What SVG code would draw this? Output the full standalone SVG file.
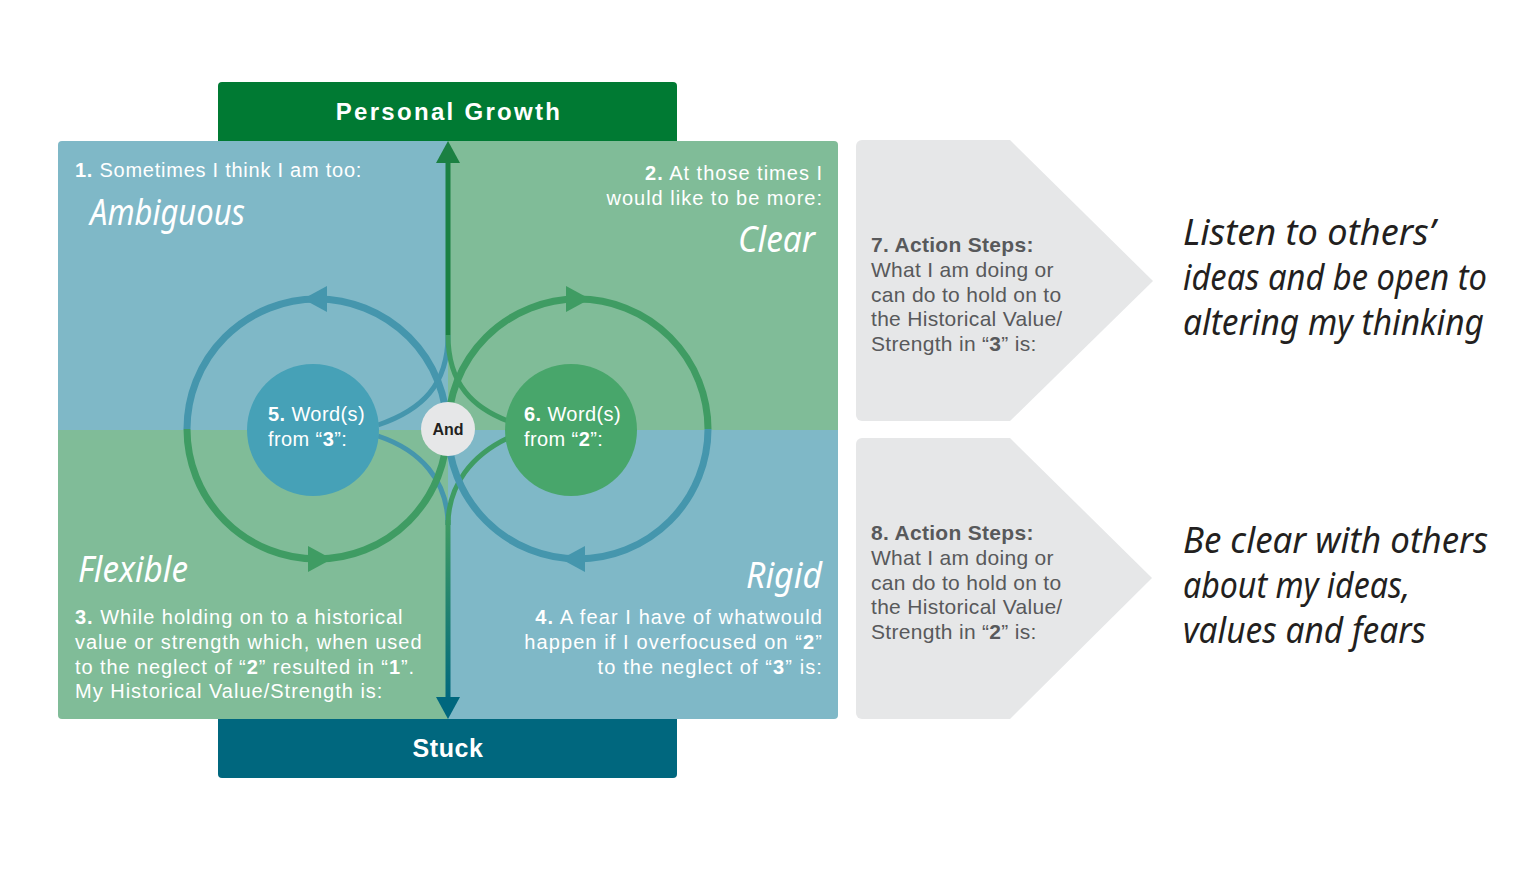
<svg xmlns="http://www.w3.org/2000/svg" width="1528" height="869" viewBox="0 0 1528 869">
<defs>
<style>
.t{font-family:"Liberation Sans",Arial,sans-serif;font-size:20px;fill:#ffffff;letter-spacing:1px}
.b{font-weight:bold}
.g{font-family:"Liberation Sans",Arial,sans-serif;font-size:21px;fill:#58595b;letter-spacing:0.3px}
.hw{font-family:"Noto Sans","DejaVu Sans",sans-serif;font-style:italic;font-size:36px;fill:#ffffff}
.hb{font-family:"Noto Sans","DejaVu Sans",sans-serif;font-style:italic;font-size:36px;fill:#231f20}
.bar{font-family:"Liberation Sans",Arial,sans-serif;font-weight:bold;font-size:24px;fill:#ffffff;text-anchor:middle}
.lp{fill:none;stroke-width:7}
.sc{fill:none;stroke-width:5}
.blue{stroke:#4596ad}
.green{stroke:#3f9c63}
</style>
<clipPath id="panel"><rect x="58" y="141" width="780" height="578" rx="4"/></clipPath>
<linearGradient id="down" x1="0" y1="520" x2="0" y2="700" gradientUnits="userSpaceOnUse">
<stop offset="0" stop-color="#3f9c63"/><stop offset="1" stop-color="#00677e"/>
</linearGradient>
</defs>

<g id="bar-growth">
<path d="M218,141 V86 a4,4 0 0 1 4,-4 H673 a4,4 0 0 1 4,4 V141 Z" fill="#007a33"/>
<text class="bar" x="449" y="120" style="letter-spacing:2.3px">Personal Growth</text>
</g>
<g id="bar-stuck">
<path d="M218,719 V774 a4,4 0 0 0 4,4 H673 a4,4 0 0 0 4,-4 V719 Z" fill="#00677e"/>
<text class="bar" x="448" y="757" style="font-size:25px;letter-spacing:0.6px">Stuck</text>
</g>

<g id="quadrants" clip-path="url(#panel)">
<rect x="58" y="141" width="390" height="289" fill="#7fb8c7"/>
<rect x="448" y="141" width="390" height="289" fill="#80bc98"/>
<rect x="58" y="430" width="390" height="289" fill="#80bc98"/>
<rect x="448" y="430" width="390" height="289" fill="#7fb8c7"/>
</g>

<g id="q1">
<text class="t" x="75" y="177" style="letter-spacing:0.75px"><tspan class="b">1.</tspan> Sometimes I think I am too:</text>
<text class="hw" x="90" y="225" textLength="155" lengthAdjust="spacingAndGlyphs">Ambiguous</text>
</g>
<g id="q2">
<text class="t" x="823" y="180" text-anchor="end"><tspan class="b">2.</tspan> At those times I</text>
<text class="t" x="823" y="205" text-anchor="end">would like to be more:</text>
<text class="hw" x="815" y="252" text-anchor="end" textLength="77" lengthAdjust="spacingAndGlyphs">Clear</text>
</g>
<g id="q3">
<text class="hw" x="78" y="582" textLength="110" lengthAdjust="spacingAndGlyphs">Flexible</text>
<text class="t" x="75" y="624"><tspan class="b">3.</tspan> While holding on to a historical</text>
<text class="t" x="75" y="649">value or strength which, when used</text>
<text class="t" x="75" y="674" style="letter-spacing:0.9px">to the neglect of “<tspan class="b">2</tspan>” resulted in “<tspan class="b">1</tspan>”.</text>
<text class="t" x="75" y="698">My Historical Value/Strength is:</text>
</g>
<g id="q4">
<text class="hw" x="822" y="588" text-anchor="end" textLength="76" lengthAdjust="spacingAndGlyphs">Rigid</text>
<text class="t" x="823" y="624" text-anchor="end" style="letter-spacing:1.1px"><tspan class="b">4.</tspan> A fear I have of whatwould</text>
<text class="t" x="823" y="649" text-anchor="end" style="letter-spacing:1.1px">happen if I overfocused on “<tspan class="b">2</tspan>”</text>
<text class="t" x="823" y="674" text-anchor="end" style="letter-spacing:1.1px">to the neglect of “<tspan class="b">3</tspan>” is:</text>
</g>

<g id="connectors">
<path class="sc" d="M448,158 V335" stroke="#1b8042"/>
<path class="sc blue" d="M448,335 C448,385 422,410 378,425"/>
<path class="sc green" d="M448,335 C448,385 474,408 508,421"/>
<path class="sc blue" d="M378,436 C420,450 448,480 448,525"/>
<path class="sc green" d="M508,438 C472,455 448,485 448,525"/>
<path class="sc" d="M448,520 V700" stroke="url(#down)"/>
<polygon points="448,141 460,163 436,163" fill="#1b8042"/>
<polygon points="448,719 460,697 436,697" fill="#00677e"/>
<path class="lp blue" d="M187,429 A130,130 0 0 1 447,429"/>
<path class="lp green" d="M187,429 A130,130 0 0 0 447,429"/>
<path class="lp green" d="M448,429 A130,130 0 0 1 708,429"/>
<path class="lp blue" d="M448,429 A130,130 0 0 0 708,429"/>
<polygon points="303,299 327,286 327,312" fill="#4596ad"/>
<polygon points="332,559 308,546 308,572" fill="#3f9c63"/>
<polygon points="590,299 566,286 566,312" fill="#3f9c63"/>
<polygon points="561,559 585,546 585,572" fill="#4596ad"/>
</g>

<g id="node5">
<circle cx="313" cy="430" r="66" fill="#46a1b7"/>
<text class="t" x="268" y="421" style="letter-spacing:0.4px"><tspan class="b">5.</tspan> Word(s)</text>
<text class="t" x="268" y="446" style="letter-spacing:0.4px">from “<tspan class="b">3</tspan>”:</text>
</g>
<g id="node6">
<circle cx="571" cy="430" r="66" fill="#48a66b"/>
<text class="t" x="524" y="421" style="letter-spacing:0.4px"><tspan class="b">6.</tspan> Word(s)</text>
<text class="t" x="524" y="446" style="letter-spacing:0.4px">from “<tspan class="b">2</tspan>”:</text>
</g>
<g id="node-and">
<circle cx="448" cy="429" r="27" fill="#e6e7e8"/>
<text x="448" y="435" text-anchor="middle" font-family="Liberation Sans, Arial, sans-serif" font-weight="bold" font-size="16" fill="#231f20">And</text>
</g>

<g id="step7">
<path d="M856,146 a6,6 0 0 1 6,-6 H1010 L1153,281 L1010,421 H862 a6,6 0 0 1 -6,-6 Z" fill="#e6e7e8"/>
<text class="g b" x="871" y="252">7. Action Steps:</text>
<text class="g" x="871" y="277">What I am doing or</text>
<text class="g" x="871" y="302">can do to hold on to</text>
<text class="g" x="871" y="326">the Historical Value/</text>
<text class="g" x="871" y="351">Strength in “<tspan class="b">3</tspan>” is:</text>
</g>
<g id="step8">
<path d="M856,444 a6,6 0 0 1 6,-6 H1010 L1152,578 L1010,719 H862 a6,6 0 0 1 -6,-6 Z" fill="#e6e7e8"/>
<text class="g b" x="871" y="540">8. Action Steps:</text>
<text class="g" x="871" y="565">What I am doing or</text>
<text class="g" x="871" y="590">can do to hold on to</text>
<text class="g" x="871" y="614">the Historical Value/</text>
<text class="g" x="871" y="639">Strength in “<tspan class="b">2</tspan>” is:</text>
</g>

<g id="answer7">
<text class="hb" x="1183" y="245" textLength="252" lengthAdjust="spacingAndGlyphs">Listen to others’</text>
<text class="hb" x="1183" y="290" textLength="304" lengthAdjust="spacingAndGlyphs">ideas and be open to</text>
<text class="hb" x="1183" y="335" textLength="301" lengthAdjust="spacingAndGlyphs">altering my thinking</text>
</g>
<g id="answer8">
<text class="hb" x="1183" y="553" textLength="305" lengthAdjust="spacingAndGlyphs">Be clear with others</text>
<text class="hb" x="1183" y="598" textLength="227" lengthAdjust="spacingAndGlyphs">about my ideas,</text>
<text class="hb" x="1183" y="643" textLength="243" lengthAdjust="spacingAndGlyphs">values and fears</text>
</g>
</svg>
